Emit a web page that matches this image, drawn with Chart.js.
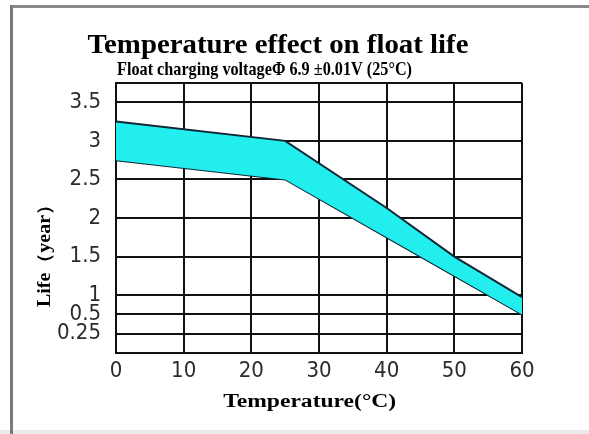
<!DOCTYPE html>
<html>
<head>
<meta charset="utf-8">
<title>Temperature effect on float life</title>
<script src="https://cdn.jsdelivr.net/npm/chart.js@4.4.0/dist/chart.umd.min.js"></script>
<style>
  html, body { margin: 0; padding: 0; background: #fff; }
  #chart { display: block; }
</style>
</head>
<body>
<canvas id="chart" width="589" height="434"></canvas>
<script>
// Data (temperature in °C, life in years)
const temperatures = [0, 25, 40, 50, 60];
const lifeUpper = [3.25, 3.0, 2.13, 1.5, 0.95];
const lifeLower = [2.75, 2.5, 1.75, 1.25, 0.5];

// Tick labels
const xTickLabels = ['0', '10', '20', '30', '40', '50', '60'];
const yTickValues = [0.25, 0.5, 1, 1.5, 2, 2.5, 3, 3.5];
const yTickLabels = ['0.25', '0.5', '1', '1.5', '2', '2.5', '3', '3.5'];

// The life axis is not linear: below 1 year every grid step is half as tall.
// Map years onto evenly spaced slots.
const yBreakValues = [0, 0.25, 0.5, 1, 1.5, 2, 2.5, 3, 3.5, 3.75];
const yBreakSlots = [0, 1, 2, 3, 5, 7, 9, 11, 13, 14];

function toSlot(v) {
    for (let i = 0; i < yBreakValues.length - 1; i++) {
        const a = yBreakValues[i], b = yBreakValues[i + 1];
        if (v <= b || i === yBreakValues.length - 2) {
            const t = (v - a) / (b - a);
            return yBreakSlots[i] + t * (yBreakSlots[i + 1] - yBreakSlots[i]);
        }
    }
    return 0;
}

const upperPoints = temperatures.map((t, i) => ({ x: t, y: toSlot(lifeUpper[i]) }));
const lowerPoints = temperatures.map((t, i) => ({ x: t, y: toSlot(lifeLower[i]) }));

const serif = '"Liberation Serif", "Times New Roman", serif';
const tickFont = { family: '"Liberation Sans Narrow", "DejaVu Sans Condensed", "Liberation Sans", sans-serif', size: 22 };

// Draw a line of text squeezed or stretched to a given width
function fitText(ctx, text, cx, cy, font, width, angle) {
    ctx.save();
    ctx.font = font;
    ctx.translate(cx, cy);
    if (angle) ctx.rotate(angle);
    const w = ctx.measureText(text).width;
    ctx.scale(width / w, 1);
    ctx.textAlign = 'center';
    ctx.textBaseline = 'alphabetic';
    ctx.fillStyle = '#000';
    ctx.fillText(text, 0, 0);
    ctx.restore();
}

// Frame and the texts around the plot
const decorPlugin = {
    id: 'decor',
    beforeDraw(chart) {
        const ctx = chart.ctx;
        ctx.save();
        ctx.fillStyle = '#fff';
        ctx.fillRect(0, 0, chart.width, chart.height);
        ctx.fillStyle = '#eaeaea';
        ctx.fillRect(0, 430, chart.width, 4);
        ctx.fillStyle = '#888';
        ctx.fillRect(10, 5, chart.width - 10, 3);
        ctx.fillStyle = '#7a7a7a';
        ctx.fillRect(10, 5, 3, chart.height - 5);
        ctx.restore();
    },
    afterDraw(chart) {
        const ctx = chart.ctx;
        fitText(ctx, 'Temperature effect on float life', 278, 53, 'bold 28px ' + serif, 381);
        fitText(ctx, 'Float charging voltage\u03A6 6.9 \u00B10.01V (25\u00B0C)', 264.5, 75, 'bold 19px ' + serif, 295);
        fitText(ctx, 'Temperature(\u00B0C)', 309.7, 407, 'bold 18px ' + serif, 173);
        fitText(ctx, 'Life\uFF08year\uFF09', 50, 251, 'bold 18px ' + serif, 112, -Math.PI / 2);
    }
};

const ctx = document.getElementById('chart').getContext('2d');
const chart = new Chart(ctx, {
    type: 'line',
    data: {
        datasets: [{
            label: 'Upper',
            data: upperPoints,
            borderColor: '#0e2636',
            backgroundColor: '#22eeee',
            borderWidth: 2,
            pointRadius: 0,
            tension: 0,
            fill: '+1'
        }, {
            label: 'Lower',
            data: lowerPoints,
            borderColor: '#0e2636',
            borderWidth: 2,
            pointRadius: 0,
            tension: 0,
            fill: false
        }]
    },
    options: {
        responsive: false,
        animation: false,
        layout: { padding: { left: 0, right: 67, top: 83, bottom: 0 } },
        plugins: {
            legend: { display: false },
            title: { display: false },
            tooltip: { enabled: false }
        },
        scales: {
            x: {
                type: 'linear',
                min: 0,
                max: 60,
                afterBuildTicks: (axis) => {
                    axis.ticks = xTickLabels.map(l => ({ value: Number(l) }));
                },
                afterFit: (axis) => { axis.height = 81; },
                grid: { color: '#111', lineWidth: 2, drawTicks: false },
                border: { color: '#111', width: 2 },
                ticks: {
                    color: '#2b2b2b',
                    font: tickFont,
                    padding: 5,
                    maxRotation: 0,
                    callback: (v) => String(v)
                }
            },
            y: {
                type: 'linear',
                min: 0,
                max: 14,
                afterBuildTicks: (axis) => {
                    axis.ticks = yBreakSlots.map(s => ({ value: s }));
                },
                afterFit: (axis) => { axis.width = 116; },
                grid: { color: '#111', lineWidth: 2, drawTicks: false },
                border: { color: '#111', width: 2 },
                ticks: {
                    color: '#2b2b2b',
                    font: tickFont,
                    padding: 15,
                    callback: (v) => {
                        const i = yTickValues.findIndex(t => Math.abs(toSlot(t) - v) < 1e-6);
                        return i >= 0 ? yTickLabels[i] : '';
                    }
                }
            }
        }
    },
    plugins: [decorPlugin]
});
</script>
</body>
</html>
